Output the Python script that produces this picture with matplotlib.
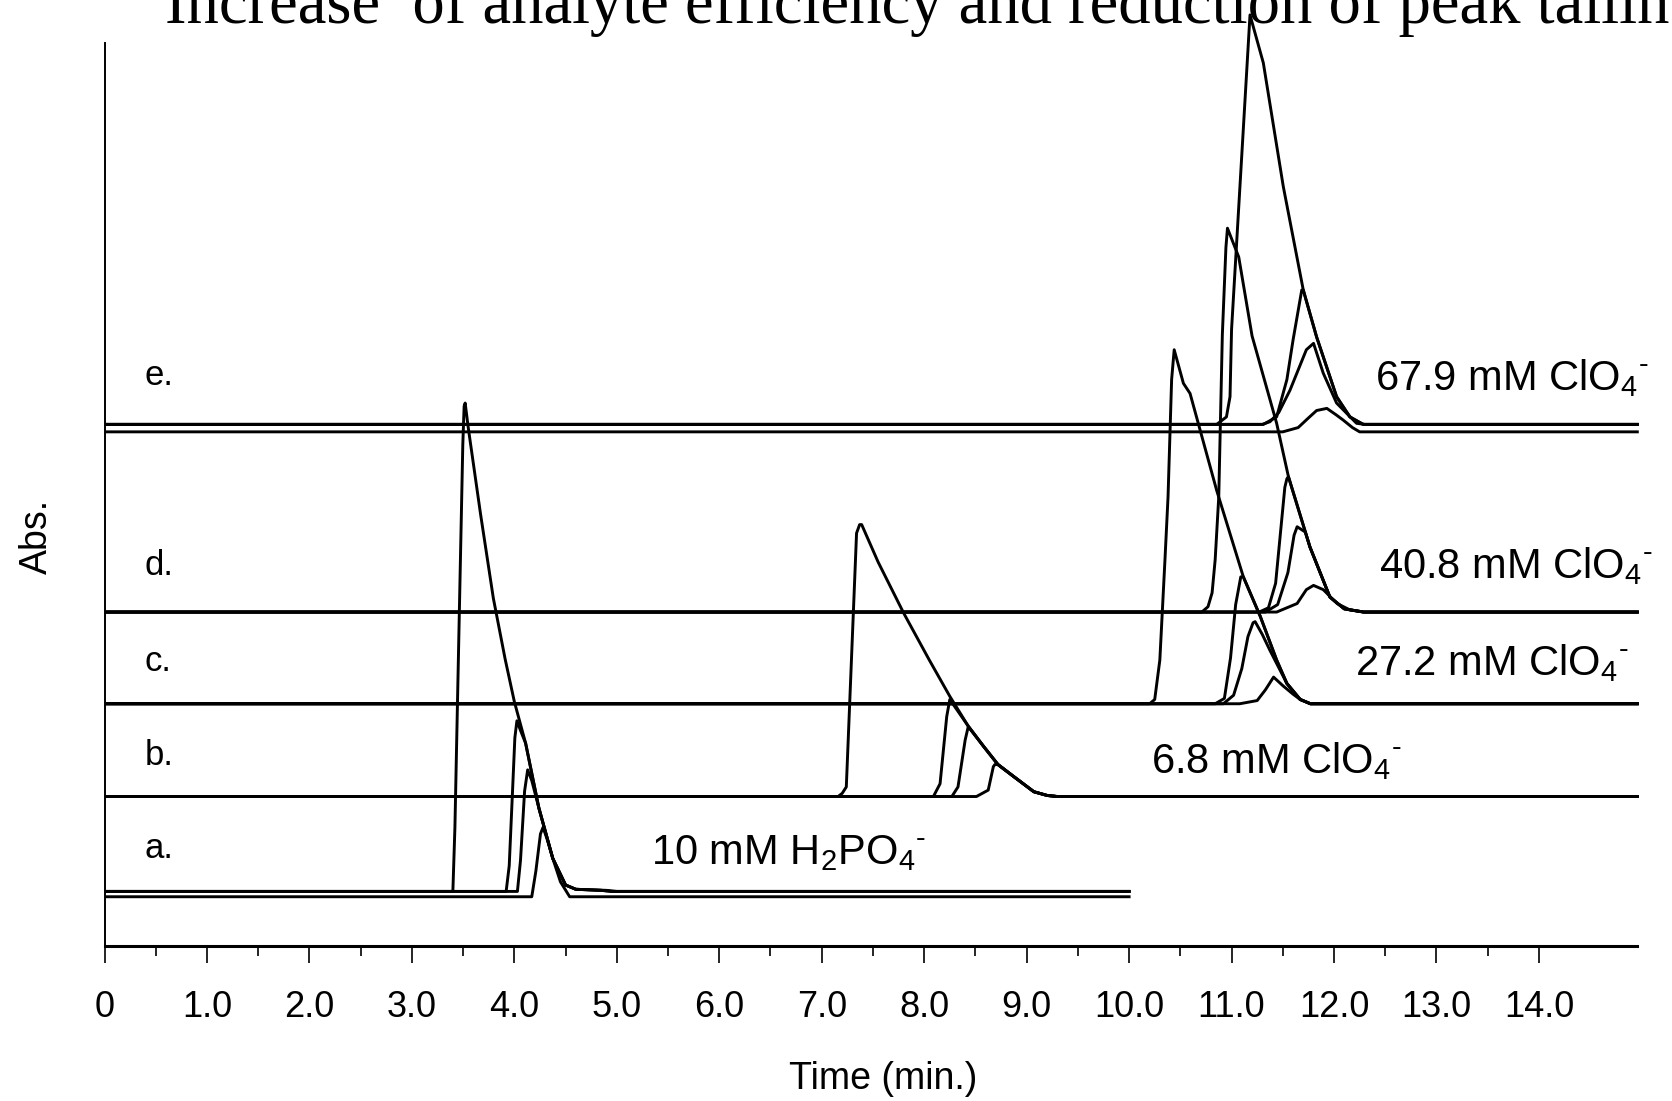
import matplotlib
matplotlib.use("Agg")
import matplotlib.pyplot as plt
from matplotlib.ticker import FixedLocator

plt.rcParams['font.family'] = ['Liberation Sans', 'DejaVu Sans']
plt.rcParams['mathtext.fontset'] = 'custom'
plt.rcParams['mathtext.rm'] = 'Liberation Sans'
plt.rcParams['mathtext.it'] = 'Liberation Sans:italic'
plt.rcParams['mathtext.bf'] = 'Liberation Sans:bold'
plt.rcParams['mathtext.default'] = 'regular'

title = "Increase  of analyte efficiency and reduction of peak tailing"

time_ticks = [0, 1, 2, 3, 4, 5, 6, 7, 8, 9, 10, 11, 12, 13, 14]
time_labels = ['0', '1.0', '2.0', '3.0', '4.0', '5.0', '6.0', '7.0',
               '8.0', '9.0', '10.0', '11.0', '12.0', '13.0', '14.0']
time_minor = [0.5, 1.5, 2.5, 3.5, 4.5, 5.5, 6.5, 7.5, 8.5, 9.5, 10.5, 11.5, 12.5, 13.5]

# panel letters (position of the letter, Abs. offset units)
panel_names = ['a.', 'b.', 'c.', 'd.', 'e.']
panel_y = [0.82, 1.70, 2.58, 3.48, 5.255]

# eluent labels
eluent_text = [r'10 mM H$_2$PO$_4{}^{\text{-}}$', r'6.8 mM ClO$_4{}^{\text{-}}$',
               r'27.2 mM ClO$_4{}^{\text{-}}$', r'40.8 mM ClO$_4{}^{\text{-}}$',
               r'67.9 mM ClO$_4{}^{\text{-}}$']
eluent_t = [5.33, 10.21, 12.20, 12.44, 12.40]
eluent_y = [0.77, 1.62, 2.54, 3.45, 5.21]

# traces: (time min, Abs. incl. offset)
# a. 10 mM H2PO4-
a1 = [(0, 0.51), (3.40, 0.51), (3.42, 1.11), (3.466, 3.26), (3.497, 4.70), (3.51, 5.06), (3.52, 5.09),
      (3.55, 4.86), (3.67, 4.05), (3.795, 3.26), (3.91, 2.69), (4.00, 2.29), (4.11, 1.90),
      (4.24, 1.29), (4.375, 0.82), (4.50, 0.57), (4.60, 0.53), (4.90, 0.52), (5.00, 0.51), (10.0, 0.51)]
a2 = [(0, 0.51), (3.92, 0.51), (3.95, 0.75), (3.98, 1.40), (4.005, 1.95), (4.025, 2.11),
      (4.06, 2.02), (4.11, 1.90), (4.24, 1.29), (4.375, 0.82), (4.50, 0.57), (4.60, 0.53),
      (4.85, 0.52), (4.95, 0.51), (10.0, 0.51)]
a3 = [(0, 0.51), (4.03, 0.51), (4.06, 0.80), (4.10, 1.45), (4.13, 1.65), (4.17, 1.55),
      (4.24, 1.29), (4.375, 0.82), (4.50, 0.57), (4.60, 0.53), (4.85, 0.52), (4.95, 0.51), (10.0, 0.51)]
a4 = [(0, 0.46), (4.17, 0.46), (4.21, 0.70), (4.255, 1.05), (4.28, 1.11), (4.32, 1.00),
      (4.375, 0.82), (4.45, 0.60), (4.54, 0.46), (10.0, 0.46)]

# b. 6.8 mM ClO4-
b1 = [(0, 1.40), (7.16, 1.40), (7.20, 1.43), (7.24, 1.49), (7.29, 2.68), (7.34, 3.87), (7.37, 3.95),
      (7.39, 3.95), (7.55, 3.60), (7.80, 3.12), (8.05, 2.68), (8.25, 2.34), (8.43, 2.06), (8.58, 1.87),
      (8.72, 1.70), (8.87, 1.59), (9.07, 1.445), (9.20, 1.41), (9.30, 1.40), (14.96, 1.40)]
b2 = [(0, 1.40), (8.09, 1.40), (8.155, 1.52), (8.22, 2.15), (8.25, 2.31), (8.43, 2.06), (8.58, 1.87),
      (8.72, 1.70), (8.87, 1.59), (9.07, 1.445), (9.20, 1.41), (9.30, 1.40), (14.96, 1.40)]
b3 = [(0, 1.40), (8.27, 1.40), (8.33, 1.49), (8.40, 1.93), (8.43, 2.055), (8.58, 1.87), (8.72, 1.70),
      (8.87, 1.59), (9.07, 1.445), (9.20, 1.41), (9.30, 1.40), (14.96, 1.40)]
b4 = [(0, 1.40), (8.51, 1.40), (8.625, 1.46), (8.675, 1.68), (8.69, 1.70), (8.72, 1.70),
      (8.87, 1.59), (9.07, 1.445), (9.20, 1.41), (9.30, 1.40), (14.96, 1.40)]

# c. 27.2 mM ClO4-
c1 = [(0, 2.27), (10.20, 2.27), (10.25, 2.31), (10.30, 2.68), (10.35, 3.62), (10.38, 4.21),
      (10.415, 5.31), (10.44, 5.59), (10.53, 5.275), (10.595, 5.18), (10.855, 4.27), (11.115, 3.46),
      (11.28, 3.09), (11.44, 2.68), (11.54, 2.46), (11.67, 2.31), (11.77, 2.27), (14.96, 2.27)]
c2 = [(0, 2.27), (10.84, 2.27), (10.93, 2.32), (10.99, 2.70), (11.04, 3.20), (11.09, 3.46),
      (11.115, 3.46), (11.28, 3.09), (11.44, 2.68), (11.54, 2.46), (11.67, 2.31), (11.77, 2.27), (14.96, 2.27)]
c3 = [(0, 2.27), (10.92, 2.27), (11.02, 2.35), (11.10, 2.60), (11.16, 2.90), (11.21, 3.03), (11.23, 3.04),
      (11.30, 2.92), (11.375, 2.77), (11.54, 2.46), (11.67, 2.31), (11.77, 2.27), (14.96, 2.27)]
c4 = [(0, 2.27), (11.08, 2.27), (11.25, 2.30), (11.33, 2.40), (11.41, 2.52), (11.50, 2.44),
      (11.60, 2.36), (11.67, 2.31), (11.77, 2.27), (14.96, 2.27)]

# d. 40.8 mM ClO4-
d1 = [(0, 3.13), (10.71, 3.13), (10.77, 3.18), (10.81, 3.31), (10.84, 3.62), (10.875, 4.21),
      (10.91, 5.73), (10.945, 6.55), (10.96, 6.73), (11.07, 6.46), (11.20, 5.72), (11.44, 4.90),
      (11.555, 4.40), (11.765, 3.74), (11.96, 3.27), (12.10, 3.16), (12.29, 3.13), (14.96, 3.13)]
d2 = [(0, 3.13), (11.27, 3.13), (11.36, 3.17), (11.43, 3.40), (11.48, 3.90), (11.52, 4.30), (11.54, 4.38),
      (11.555, 4.40), (11.765, 3.74), (11.96, 3.27), (12.10, 3.16), (12.29, 3.13), (14.96, 3.13)]
d3 = [(0, 3.13), (11.33, 3.13), (11.45, 3.20), (11.55, 3.50), (11.61, 3.85), (11.64, 3.93),
      (11.72, 3.88), (11.765, 3.74), (11.96, 3.27), (12.10, 3.16), (12.29, 3.13), (14.96, 3.13)]
d4 = [(0, 3.13), (11.44, 3.13), (11.64, 3.21), (11.73, 3.34), (11.80, 3.38), (11.895, 3.34),
      (12.03, 3.21), (12.155, 3.15), (12.29, 3.13), (14.96, 3.13)]

# e. 67.9 mM ClO4-
e1 = [(0, 4.89), (10.855, 4.89), (10.95, 4.96), (10.985, 5.15), (11.00, 5.78), (11.18, 8.73),
      (11.31, 8.28), (11.505, 7.12), (11.70, 6.15), (11.83, 5.71), (12.025, 5.15), (12.155, 4.96),
      (12.285, 4.89), (14.96, 4.89)]
e2 = [(0, 4.89), (11.31, 4.89), (11.44, 4.96), (11.54, 5.31), (11.60, 5.68), (11.685, 6.15),
      (11.70, 6.15), (11.83, 5.71), (12.025, 5.15), (12.155, 4.96), (12.285, 4.89), (14.96, 4.89)]
e3 = [(0, 4.89), (11.30, 4.89), (11.375, 4.915), (11.46, 5.00), (11.57, 5.21), (11.73, 5.59),
      (11.80, 5.65), (11.895, 5.37), (12.025, 5.09), (12.22, 4.90), (12.30, 4.89), (14.96, 4.89)]
e4 = [(0, 4.82), (11.50, 4.82), (11.65, 4.86), (11.75, 4.95), (11.83, 5.02), (11.93, 5.04),
      (12.02, 4.98), (12.09, 4.93), (12.18, 4.86), (12.25, 4.82), (14.96, 4.82)]

traces = [a1, a2, a3, a4, b1, b2, b3, b4, c1, c2, c3, c4, d1, d2, d3, d4, e1, e2, e3, e4]

W, H = 1672, 1101
fig = plt.figure(figsize=(W / 100, H / 100), dpi=100)
ax = fig.add_axes([104.5 / W, (H - 945.8) / H, 15 * 102.46 / W, 945.8 / H])

for tr in traces:
    t, v = zip(*tr)
    ax.plot(t, v, color='black', lw=2.1, solid_joinstyle='round')

ax.set_xlim(0, 15)
ax.set_ylim(0, 8.87)

for s in ['top', 'right']:
    ax.spines[s].set_visible(False)
ax.spines['left'].set_bounds(0, 8.47)
ax.spines['bottom'].set_bounds(0, 14.96)
ax.spines['left'].set_linewidth(1.4)
ax.spines['bottom'].set_linewidth(2.2)

ax.set_yticks([])
ax.set_xticks(time_ticks)
ax.set_xticklabels(time_labels)
ax.xaxis.set_minor_locator(FixedLocator(time_minor))
ax.tick_params(axis='x', which='major', direction='out', length=12, width=1.2,
               pad=20, labelsize=26)
ax.tick_params(axis='x', which='minor', direction='out', length=7, width=1.2)

ax.set_xlabel('Time (min.)', fontsize=27)
ax.xaxis.set_label_coords(0.5066, -0.122)
ax.set_ylabel('Abs.', fontsize=27)
ax.yaxis.set_label_coords(-0.032, 0.433)

for name, y in zip(panel_names, panel_y):
    ax.text(0.395, y, name, fontsize=25, va='baseline', ha='left')

for txt, t, y in zip(eluent_text, eluent_t, eluent_y):
    ax.text(t, y, txt, fontsize=30, va='baseline', ha='left', clip_on=False)

# slide title, cut by the top edge as in the original
fig.text(165 / W, 1 - 23 / H, title, family='Liberation Serif', fontsize=46.5,
         va='baseline', ha='left')

fig.savefig('out.png', dpi=100)
